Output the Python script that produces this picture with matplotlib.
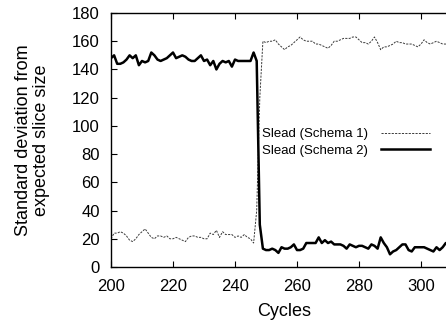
import numpy as np
import matplotlib
matplotlib.use('Agg')
import matplotlib.pyplot as plt

plt.rcParams['font.family'] = ['Liberation Sans', 'DejaVu Sans']

cycles = np.arange(200, 311)

# Slead (Schema 1), dashed
schema1 = [20, 24, 24, 25, 24, 22, 19, 18, 20, 23,
           25, 27, 24, 21, 20, 22, 22, 21, 22, 20,
           20, 21, 20, 19, 18, 21, 22, 22, 21, 21,
           20, 20, 24, 23, 26, 21, 25, 23, 23, 23,
           21, 22, 21, 23, 21, 20, 17, 40, 120, 160,
           159, 160, 160, 161, 158, 156, 154, 156, 157, 159,
           161, 163, 161, 160, 160, 160, 158, 158, 157, 156,
           155, 157, 160, 160, 161, 162, 162, 162, 163, 163,
           161, 159, 159, 158, 160, 163, 159, 154, 156, 156,
           157, 158, 160, 159, 159, 158, 158, 158, 157, 156,
           158, 161, 159, 158, 159, 160, 159, 158, 158, 159,
           158]

# Slead (Schema 2), solid
schema2 = [148, 150, 144, 144, 145, 147, 150, 148, 150, 143,
           146, 145, 146, 152, 150, 147, 146, 147, 148, 150,
           152, 148, 149, 150, 149, 147, 146, 146, 148, 150,
           146, 147, 143, 146, 140, 144, 146, 145, 146, 142,
           147, 146, 146, 146, 146, 146, 152, 146, 30, 13,
           12, 12, 13, 12, 10, 14, 13, 13, 14, 16,
           12, 12, 13, 17, 17, 17, 17, 21, 17, 19,
           17, 18, 16, 16, 16, 15, 13, 16, 15, 14,
           15, 15, 14, 13, 16, 15, 13, 21, 17, 14,
           9, 11, 12, 14, 16, 16, 12, 11, 14, 14,
           14, 14, 13, 12, 11, 14, 12, 14, 17, 15,
           14]

fig = plt.figure(figsize=(4.46, 3.24), dpi=100)
ax = fig.add_axes([111 / 446, 57 / 324, 341 / 446, 254 / 324])

ax.plot(cycles, schema1, color='#3a3a3a', lw=0.7, linestyle=(0, (2.2, 1.3)),
        label='Slead (Schema 1)')
ax.plot(cycles, schema2, color='black', lw=1.8, label='Slead (Schema 2)')

ax.set_xlim(200, 310)
ax.set_ylim(0, 180)
ax.set_xticks(np.arange(200, 311, 20))
ax.set_yticks(np.arange(0, 181, 20))
ax.tick_params(direction='in', length=4, width=0.8, labelsize=12,
               top=True, right=True)
ax.tick_params(axis='x', pad=8.5)
ax.tick_params(axis='y', pad=8)
for s in ax.spines.values():
    s.set_linewidth(1.0)

ax.set_xlabel('Cycles', fontsize=13)
ax.xaxis.set_label_coords(0.507, -0.142)
ax.set_ylabel('Standard deviation from\nexpected slice size', fontsize=13,
              linespacing=1.1)
ax.yaxis.set_label_coords(-0.179, 0.5)

ax.legend(loc='upper right', bbox_to_anchor=(430 / 446, 1 - 128 / 324),
          bbox_transform=fig.transFigure, frameon=False, markerfirst=False,
          fontsize=9.5, handlelength=3.7, handletextpad=1.0,
          labelspacing=0.35, borderpad=0, borderaxespad=0)

fig.savefig('out.png', dpi=100)
